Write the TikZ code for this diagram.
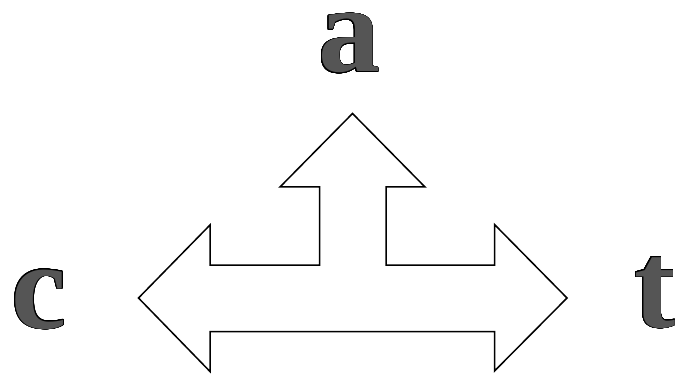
\documentclass[tikz,border=0pt]{standalone}
\usepackage{fontspec}
\setmainfont{Liberation Serif}
\usepackage{contour}
\contourlength{0.6pt}
\contournumber{32}
\definecolor{lettergray}{HTML}{555555}
\tikzset{
  letter/.style={inner sep=0pt, outer sep=0pt, font=\fontsize{124}{124}\selectfont\bfseries},
  arrowshape/.style={draw=black, line width=1.5pt, line join=miter, fill=white}
}
\newcommand{\outl}[1]{\smash{\contour{black}{\textcolor{lettergray}{#1}}}}
\begin{document}
\begin{tikzpicture}[x=1pt,y=-1pt]
\useasboundingbox (0,0) rectangle (677,374);
\fill[white] (0,0) rectangle (677,374);
% three-headed arrow
\draw[arrowshape] (138.5,298) -- (210,225) -- (210,265) -- (319.5,265) -- (319.5,187)
  -- (280,187) -- (352.5,113.5) -- (425,187) -- (386,187) -- (386,265)
  -- (494.5,265) -- (494.5,224.5) -- (567,298) -- (494.5,371) -- (494.5,331.5)
  -- (210,331.5) -- (210,371.5) -- cycle;
% labels
\node[letter, anchor=base] (a) at (349,72) {\outl{a}};
\node[letter, anchor=base] (c) at (39,328) {\outl{c}};
\node[letter, anchor=base west] (t) at (634,327) {\outl{t}};
\end{tikzpicture}
\end{document}
